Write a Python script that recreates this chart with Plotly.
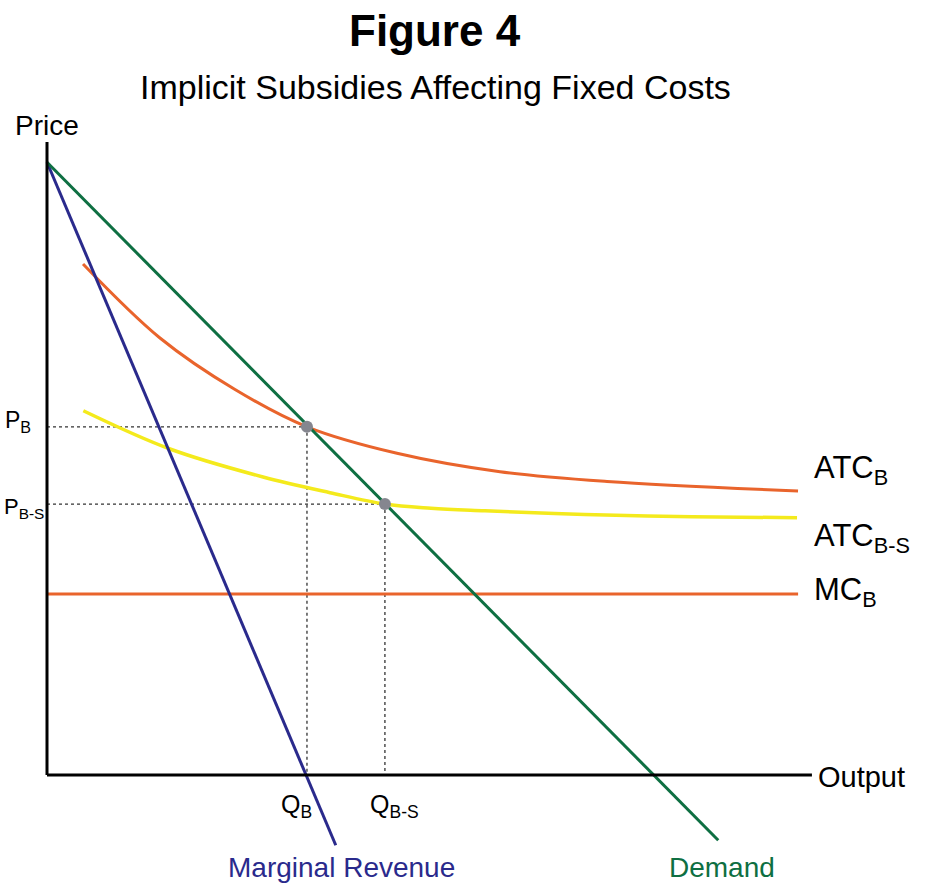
import plotly.graph_objects as go

# ---- data (Output / Price units, axes run 0..100) ----
demand_x = [0.0, 87.4]
demand_y = [96.8, -10.3]

mr_x = [0.0, 37.6]
mr_y = [96.8, -11.1]

mc_x = [0.0, 97.8]
mc_y = [28.6, 28.6]

atc_b_x = [4.69, 14.71, 24.48, 33.85, 45.57, 58.98, 72.92, 97.79]
atc_b_y = [80.73, 69.04, 60.90, 55.0, 50.82, 47.91, 46.37, 44.87]

atc_bs_x = [4.73, 16.02, 28.13, 36.85, 44.0, 50.0, 57.0, 70.0, 84.0, 97.66]
atc_bs_y = [57.55, 51.50, 47.08, 44.6, 42.8, 42.15, 41.75, 41.15, 40.8, 40.65]

q_b, p_b = 33.85, 55.0
q_bs, p_bs = 44.0, 42.8

axis_max_x = 99.6
axis_max_y = 100.0

# ---- figure geometry ----
W, H = 931, 885
X0_PX, Y0_PX = 47, 775
XS, YS = 7.68, 6.33

FONT = "Liberation Sans, Arial, Helvetica, sans-serif"
GREEN = "#0e6f42"
BLUE = "#2a2a8c"
ORANGE = "#e9642c"
YELLOW = "#f4ea1c"
DOT = "#333333"

fig = go.Figure()

def line(x, y, color, width=3, dash=None, shape="linear", smoothing=1.0):
    ln = dict(color=color, width=width, dash=dash, shape=shape)
    if shape == "spline":
        ln["smoothing"] = smoothing
    fig.add_trace(go.Scatter(x=x, y=y, mode="lines", line=ln,
                             hoverinfo="skip", showlegend=False))

# dotted guides
line([0, q_b], [p_b, p_b], DOT, 1.3, "dot")
line([q_b, q_b], [p_b, 0], DOT, 1.3, "dot")
line([0, q_bs], [p_bs, p_bs], DOT, 1.3, "dot")
line([q_bs, q_bs], [p_bs, 0], DOT, 1.3, "dot")

# curves
line(mc_x, mc_y, ORANGE, 3)
line(atc_bs_x, atc_bs_y, YELLOW, 3.5, shape="spline", smoothing=1.0)
line(atc_b_x, atc_b_y, ORANGE, 3, shape="spline")
line(mr_x, mr_y, BLUE, 3)
line(demand_x, demand_y, GREEN, 3)

# axes
line([0, 0], [0, axis_max_y], "black", 3)
line([0, axis_max_x], [0, 0], "black", 3)

# equilibrium points
fig.add_trace(go.Scatter(x=[q_b, q_bs], y=[p_b, p_bs], mode="markers",
                         marker=dict(color="#85868f", size=12),
                         hoverinfo="skip", showlegend=False))

def ann(text, px, py, size, color="black", xanchor="center", yanchor="middle", bold=False):
    if bold:
        text = "<b>" + text + "</b>"
    fig.add_annotation(text=text, x=px / W, y=1 - py / H, xref="paper", yref="paper",
                       xanchor=xanchor, yanchor=yanchor, showarrow=False,
                       font=dict(family=FONT, size=size, color=color))

ann("Figure 4", 435, 31, 44, bold=True)
ann("Implicit Subsidies Affecting Fixed Costs", 435, 87, 34)
ann("Price", 47, 126, 28)
ann("Output", 816, 777, 29, xanchor="left")
ann("P<sub>B</sub>", 33, 421, 23, xanchor="right")
ann("P<sub>B-S</sub>", 46, 508, 22, xanchor="right")
ann("Q<sub>B</sub>", 296, 806, 25)
ann("Q<sub>B-S</sub>", 394, 806, 25)
ann("ATC<sub>B</sub>", 812, 470, 31, xanchor="left")
ann("ATC<sub>B-S</sub>", 812, 538, 31, xanchor="left")
ann("MC<sub>B</sub>", 812, 592, 31, xanchor="left")
ann("Marginal Revenue", 341, 867, 28, color=BLUE)
ann("Demand", 722, 867, 28, color=GREEN)

fig.update_layout(
    width=W, height=H, autosize=False,
    margin=dict(l=0, r=0, t=0, b=0),
    paper_bgcolor="white", plot_bgcolor="white",
    xaxis=dict(range=[(0 - X0_PX) / XS, (W - X0_PX) / XS], visible=False, fixedrange=True),
    yaxis=dict(range=[(Y0_PX - H) / YS, Y0_PX / YS], visible=False, fixedrange=True),
)

fig.write_html("out.html", config={"displayModeBar": False},
               post_script="document.body.style.margin='0';document.body.style.overflow='hidden';")
